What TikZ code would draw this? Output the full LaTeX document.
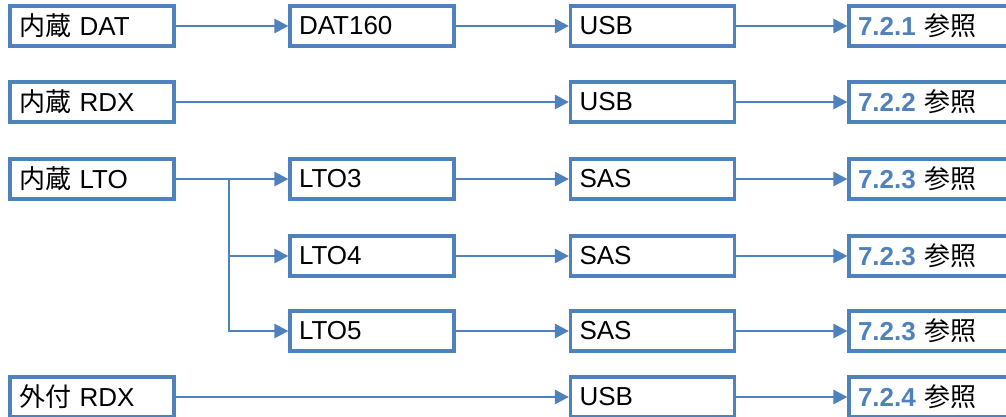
\documentclass[tikz,border=0pt]{standalone}
\usepackage{fontspec}
\setmainfont{Liberation Sans}
\newfontfamily\jp{Noto Sans CJK JP}
\usetikzlibrary{arrows.meta}
\definecolor{obl}{HTML}{4F81BD}
\tikzset{
  boxn/.style={draw=obl, line width=3.2pt, fill=white, text width=146pt, inner xsep=9pt, inner ysep=0pt,
    minimum height=40pt, align=left, font=\fontsize{26}{26}\selectfont, text=black, anchor=center},
  conn/.style={draw=obl, line width=2.8pt, -{Triangle[length=14pt,width=14pt]}}
}
\begin{document}
\begin{tikzpicture}[x=1pt,y=1pt]
\useasboundingbox (0,0) rectangle (1006,-416);
\node[boxn] (a1) at (92,-26) {{\jp 内蔵} DAT};
\node[boxn] (b1) at (372,-26) {DAT160};
\node[boxn] (c1) at (652.5,-26) {USB};
\node[boxn] (d1) at (931,-26) {{\color{obl}\bfseries 7.2.1} {\jp 参照}};

\node[boxn] (a2) at (92,-102) {{\jp 内蔵} RDX};
\node[boxn] (c2) at (652.5,-102) {USB};
\node[boxn] (d2) at (931,-102) {{\color{obl}\bfseries 7.2.2} {\jp 参照}};

\node[boxn] (a3) at (92,-179) {{\jp 内蔵} LTO};
\node[boxn] (b3) at (372,-179) {LTO3};
\node[boxn] (c3) at (652.5,-179) {SAS};
\node[boxn] (d3) at (931,-179) {{\color{obl}\bfseries 7.2.3} {\jp 参照}};

\node[boxn] (b4) at (372,-256) {LTO4};
\node[boxn] (c4) at (652.5,-256) {SAS};
\node[boxn] (d4) at (931,-256) {{\color{obl}\bfseries 7.2.3} {\jp 参照}};

\node[boxn] (b5) at (372,-331) {LTO5};
\node[boxn] (c5) at (652.5,-331) {SAS};
\node[boxn] (d5) at (931,-331) {{\color{obl}\bfseries 7.2.3} {\jp 参照}};

\node[boxn] (a6) at (92,-397) {{\jp 外付} RDX};
\node[boxn] (c6) at (652.5,-397) {USB};
\node[boxn] (d6) at (931,-397) {{\color{obl}\bfseries 7.2.4} {\jp 参照}};

\coordinate (j) at (229,-179);

\draw[conn] (a1) -- (b1);
\draw[conn] (b1) -- (c1);
\draw[conn] (c1) -- (d1);
\draw[conn] (a2) -- (c2);
\draw[conn] (c2) -- (d2);
\draw[conn] (a3) -- (b3);
\draw[conn] (j) |- (b4);
\draw[conn] (j) |- (b5);
\draw[conn] (b3) -- (c3);
\draw[conn] (c3) -- (d3);
\draw[conn] (b4) -- (c4);
\draw[conn] (c4) -- (d4);
\draw[conn] (b5) -- (c5);
\draw[conn] (c5) -- (d5);
\draw[conn] (a6) -- (c6);
\draw[conn] (c6) -- (d6);
\end{tikzpicture}
\end{document}
